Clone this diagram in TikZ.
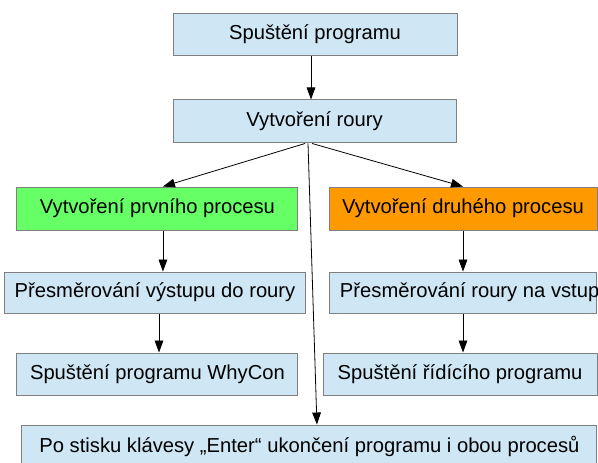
\documentclass[tikz,border=0pt]{standalone}
\usepackage{fontspec}
\setmainfont{Liberation Sans}
\usetikzlibrary{positioning, arrows.meta}
\definecolor{paleblue}{RGB}{207, 231, 245}
\definecolor{procgreen}{RGB}{102, 255, 102}
\definecolor{procorange}{RGB}{255, 153, 0}
\definecolor{boxgray}{RGB}{128, 128, 128}

\begin{document}
\begin{tikzpicture}[
        stepbox/.style={draw=boxgray, line width=0.75pt, fill=paleblue,
            minimum height=31.5pt, inner xsep=7.5pt,
            font=\fontsize{15.15pt}{18pt}\selectfont},
        flow/.style={draw=black, line width=0.6pt,
            -{Triangle[length=9pt, width=6.5pt]}}
    ]
    \useasboundingbox (0pt, 0pt) rectangle (448.5pt, -346.5pt);

    \node[stepbox, minimum width=213pt] (start) at (236.25pt, -25.5pt)
        {Spuštění programu};
    \node[stepbox, minimum width=212.25pt, minimum height=32.25pt] (pipe) at (235.9pt, -91.1pt)
        {Vytvoření roury};

    % the two processes
    \node[stepbox, fill=procgreen, minimum width=210.75pt, minimum height=32.25pt] (first) at (118.1pt, -156.4pt)
        {Vytvoření prvního procesu};
    \node[stepbox, fill=procorange, minimum width=201pt, minimum height=32.25pt] (second) at (347.25pt, -156.4pt)
        {Vytvoření druhého procesu};

    \node[stepbox, minimum width=222pt, minimum height=30.75pt] (redirout) at (116.25pt, -219.4pt)
        {Přesměrování výstupu do roury};
    \node[stepbox, minimum width=200.25pt, minimum height=30.75pt] (redirin) at (347.6pt, -219.4pt)
        {\makebox[185.25pt][l]{Přesměrování roury na vstupu}};

    \node[stepbox, minimum width=210.75pt] (whycon) at (118.1pt, -280.5pt)
        {Spuštění programu WhyCon};
    \node[stepbox, minimum width=205.5pt] (control) at (345pt, -280.5pt)
        {Spuštění řídícího programu};

    \node[stepbox, minimum width=431.25pt] (finish) at (232.1pt, -334.5pt)
        {Po stisku klávesy „Enter“ ukončení programu i obou procesů};

    \draw[flow] ([xshift=-3pt]start.south) -- ([xshift=-3pt]start.south |- pipe.north);
    \draw[flow] ([xshift=-7.1pt]pipe.south) -- ([xshift=4.1pt]first.north);
    \draw[flow] ([xshift=-1.9pt]pipe.south) -- (second.north);
    \draw[flow] ([xshift=-4.9pt]pipe.south) -- ([xshift=5.6pt]finish.north);
    \draw[flow] ([xshift=4.1pt]first.south) -- ([xshift=4.1pt]first.south |- redirout.north);
    \draw[flow] ([xshift=3pt]redirout.south) -- ([xshift=3pt]redirout.south |- whycon.north);
    \draw[flow] (second.south) -- (second.south |- redirin.north);
    \draw[flow] ([xshift=-0.35pt]redirin.south) -- ([xshift=-0.35pt]redirin.south |- control.north);
\end{tikzpicture}
\end{document}
